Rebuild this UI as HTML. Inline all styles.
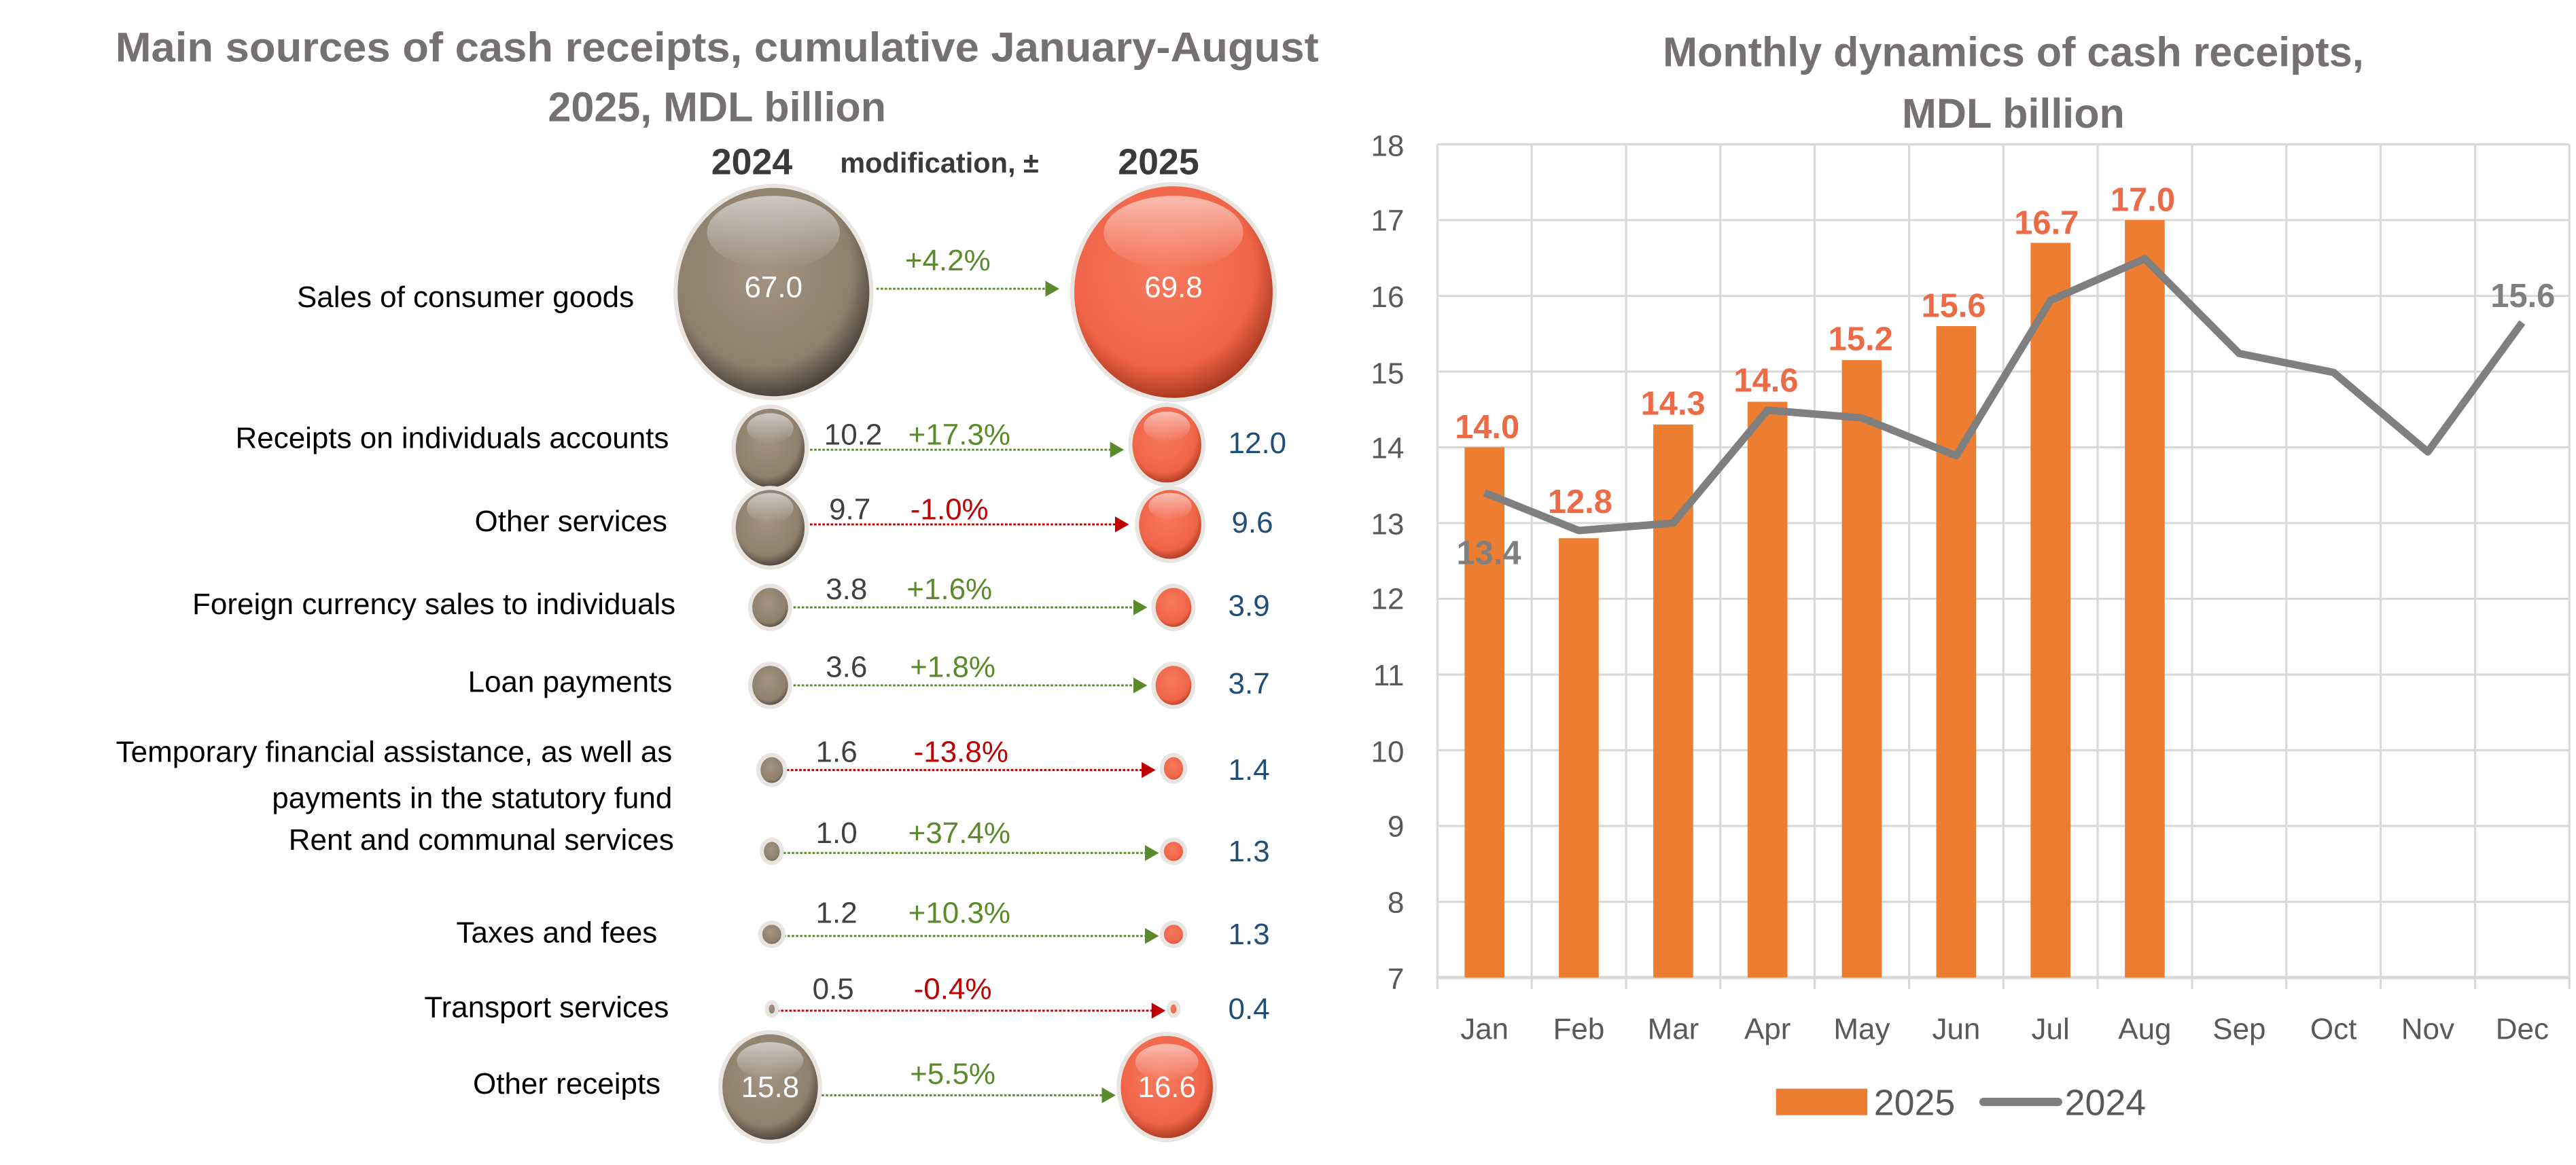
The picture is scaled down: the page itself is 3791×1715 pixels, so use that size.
<!DOCTYPE html>
<html><head><meta charset="utf-8"><style>
html,body{margin:0;padding:0;background:#fff;}
svg{display:block;font-family:"Liberation Sans",sans-serif;}
</style></head><body>
<svg width="3791" height="1715" viewBox="0 0 1552 702" preserveAspectRatio="none" xmlns="http://www.w3.org/2000/svg">
<defs>
<radialGradient id="gg" cx="0.45" cy="0.4" r="0.6">
<stop offset="0" stop-color="#a49382"/><stop offset="0.75" stop-color="#8f7f6d"/><stop offset="1" stop-color="#4a4036"/></radialGradient>
<radialGradient id="og" cx="0.45" cy="0.4" r="0.6">
<stop offset="0" stop-color="#f77a5e"/><stop offset="0.75" stop-color="#f06448"/><stop offset="1" stop-color="#a8381f"/></radialGradient>
<linearGradient id="hl" x1="0" y1="0" x2="0" y2="1"><stop offset="0" stop-color="#fff" stop-opacity="0.55"/><stop offset="1" stop-color="#fff" stop-opacity="0"/></linearGradient>
<marker id="ag" markerWidth="8" markerHeight="8" refX="6" refY="4" orient="auto"><path d="M0,0 L7,4 L0,8 Z" fill="#5a8a2c"/></marker>
<marker id="ar" markerWidth="8" markerHeight="8" refX="6" refY="4" orient="auto"><path d="M0,0 L7,4 L0,8 Z" fill="#c00000"/></marker>
</defs>

<!-- LEFT TITLE -->
<g fill="#767171" font-weight="bold" font-size="25" text-anchor="middle">
<text x="432" y="37" textLength="725" lengthAdjust="spacingAndGlyphs">Main sources of cash receipts, cumulative January-August</text>
<text x="432" y="73">2025,  MDL billion</text>
</g>
<g fill="#3a3a3a" font-weight="bold" font-size="22" text-anchor="middle">
<text x="453" y="105">2024</text><text x="698" y="105">2025</text></g>
<text x="566" y="104" fill="#3a3a3a" font-weight="bold" font-size="17" text-anchor="middle">modification, ±</text>

<!-- arrows -->
<g stroke-dasharray="1.5,1" stroke-width="1.2">
<line x1="528" y1="174" x2="637" y2="174" stroke="#5a8a2c" marker-end="url(#ag)"/>
<line x1="488" y1="271" x2="676" y2="271" stroke="#5a8a2c" marker-end="url(#ag)"/>
<line x1="488" y1="316" x2="679" y2="316" stroke="#c00000" marker-end="url(#ar)"/>
<line x1="478" y1="366" x2="690" y2="366" stroke="#5a8a2c" marker-end="url(#ag)"/>
<line x1="478" y1="413" x2="690" y2="413" stroke="#5a8a2c" marker-end="url(#ag)"/>
<line x1="474" y1="464" x2="695" y2="464" stroke="#c00000" marker-end="url(#ar)"/>
<line x1="472" y1="514" x2="697" y2="514" stroke="#5a8a2c" marker-end="url(#ag)"/>
<line x1="472" y1="564" x2="697" y2="564" stroke="#5a8a2c" marker-end="url(#ag)"/>
<line x1="468" y1="609" x2="701" y2="609" stroke="#c00000" marker-end="url(#ar)"/>
<line x1="495" y1="660" x2="671" y2="660" stroke="#5a8a2c" marker-end="url(#ag)"/>
</g>

<!-- bubbles -->
<g stroke="#e8e4e0" stroke-width="2.5">
<ellipse cx="466" cy="176" rx="59" ry="64" fill="url(#gg)"/>
<ellipse cx="707" cy="176" rx="61" ry="65" fill="url(#og)"/>
<ellipse cx="464" cy="270" rx="22" ry="25" fill="url(#gg)"/>
<ellipse cx="703" cy="268" rx="22" ry="24" fill="url(#og)"/>
<ellipse cx="464" cy="318" rx="22" ry="24" fill="url(#gg)"/>
<ellipse cx="705" cy="316" rx="20" ry="22" fill="url(#og)"/>
<ellipse cx="464" cy="366" rx="12" ry="13" fill="url(#gg)"/>
<ellipse cx="707" cy="366" rx="12" ry="13" fill="url(#og)"/>
<ellipse cx="464" cy="413" rx="12" ry="13" fill="url(#gg)"/>
<ellipse cx="707" cy="413" rx="12" ry="13" fill="url(#og)"/>
<ellipse cx="465" cy="464" rx="8" ry="9" fill="url(#gg)"/>
<ellipse cx="707" cy="463" rx="7" ry="8" fill="url(#og)"/>
<ellipse cx="465" cy="513" rx="6" ry="7" fill="url(#gg)"/>
<ellipse cx="707" cy="513" rx="7" ry="7" fill="url(#og)"/>
<ellipse cx="465" cy="563" rx="7" ry="7" fill="url(#gg)"/>
<ellipse cx="707" cy="563" rx="7" ry="7" fill="url(#og)"/>
<ellipse cx="465" cy="608" rx="3" ry="4" fill="url(#gg)"/>
<ellipse cx="707" cy="608" rx="3" ry="4" fill="url(#og)"/>
<ellipse cx="464" cy="655" rx="30" ry="33" fill="url(#gg)"/>
<ellipse cx="703" cy="655" rx="29" ry="32" fill="url(#og)"/>
</g>
<g fill="url(#hl)">
<ellipse cx="466" cy="140" rx="40" ry="22"/><ellipse cx="707" cy="140" rx="42" ry="22"/>
<ellipse cx="464" cy="258" rx="14" ry="9"/><ellipse cx="703" cy="257" rx="14" ry="9"/>
<ellipse cx="464" cy="306" rx="14" ry="9"/><ellipse cx="705" cy="305" rx="13" ry="8"/>
<ellipse cx="464" cy="639" rx="20" ry="11"/><ellipse cx="703" cy="640" rx="19" ry="11"/>
</g>

<!-- labels -->
<g fill="#000" font-size="18" text-anchor="end">
<text x="382" y="185">Sales of consumer goods</text>
<text x="403" y="270">Receipts on individuals accounts</text>
<text x="402" y="320">Other services</text>
<text x="407" y="370">Foreign currency sales to individuals</text>
<text x="405" y="417">Loan payments</text>
<text x="405" y="459">Temporary financial assistance, as well as</text>
<text x="405" y="487">payments in the statutory fund</text>
<text x="406" y="512">Rent and communal services</text>
<text x="396" y="568">Taxes and fees</text>
<text x="403" y="613">Transport services</text>
<text x="398" y="659">Other receipts</text>
</g>
<g font-size="18" fill="#fff" text-anchor="middle">
<text x="466" y="179">67.0</text><text x="707" y="179">69.8</text>
<text x="464" y="661">15.8</text><text x="703" y="661">16.6</text>
</g>
<g font-size="18" fill="#404040" text-anchor="middle">
<text x="514" y="268">10.2</text><text x="512" y="313">9.7</text><text x="510" y="361">3.8</text>
<text x="510" y="408">3.6</text><text x="504" y="459">1.6</text><text x="504" y="508">1.0</text>
<text x="504" y="556">1.2</text><text x="502" y="602">0.5</text>
</g>
<g font-size="18" text-anchor="middle">
<text x="571" y="163" fill="#5a8a2c">+4.2%</text>
<text x="578" y="268" fill="#5a8a2c">+17.3%</text>
<text x="572" y="313" fill="#c00000">-1.0%</text>
<text x="572" y="361" fill="#5a8a2c">+1.6%</text>
<text x="574" y="408" fill="#5a8a2c">+1.8%</text>
<text x="579" y="459" fill="#c00000">-13.8%</text>
<text x="578" y="508" fill="#5a8a2c">+37.4%</text>
<text x="578" y="556" fill="#5a8a2c">+10.3%</text>
<text x="574" y="602" fill="#c00000">-0.4%</text>
<text x="574" y="653" fill="#5a8a2c">+5.5%</text>
</g>
<g font-size="18" fill="#1f4e79" text-anchor="start">
<text x="740" y="273">12.0</text><text x="742" y="321">9.6</text><text x="740" y="371">3.9</text>
<text x="740" y="418">3.7</text><text x="740" y="470">1.4</text><text x="740" y="519">1.3</text>
<text x="740" y="569">1.3</text><text x="740" y="614">0.4</text>
</g>

<!-- RIGHT CHART -->
<g fill="#767171" font-weight="bold" font-size="25" text-anchor="middle">
<text x="1213" y="40">Monthly dynamics of cash receipts,</text>
<text x="1213" y="77">MDL billion</text>
</g>
<g stroke="#d9d9d9" stroke-width="1.3">
<line x1="866" y1="87" x2="1548" y2="87"/><line x1="866" y1="132.6" x2="1548" y2="132.6"/>
<line x1="866" y1="178.3" x2="1548" y2="178.3"/><line x1="866" y1="223.9" x2="1548" y2="223.9"/>
<line x1="866" y1="269.5" x2="1548" y2="269.5"/><line x1="866" y1="315.2" x2="1548" y2="315.2"/>
<line x1="866" y1="360.8" x2="1548" y2="360.8"/><line x1="866" y1="406.5" x2="1548" y2="406.5"/>
<line x1="866" y1="452.1" x2="1548" y2="452.1"/><line x1="866" y1="497.7" x2="1548" y2="497.7"/>
<line x1="866" y1="543.4" x2="1548" y2="543.4"/>
<line x1="866" y1="87" x2="866" y2="596"/><line x1="922.8" y1="87" x2="922.8" y2="596"/>
<line x1="979.7" y1="87" x2="979.7" y2="596"/><line x1="1036.5" y1="87" x2="1036.5" y2="596"/>
<line x1="1093.3" y1="87" x2="1093.3" y2="596"/><line x1="1150.2" y1="87" x2="1150.2" y2="596"/>
<line x1="1207" y1="87" x2="1207" y2="596"/><line x1="1263.8" y1="87" x2="1263.8" y2="596"/>
<line x1="1320.7" y1="87" x2="1320.7" y2="596"/><line x1="1377.5" y1="87" x2="1377.5" y2="596"/>
<line x1="1434.3" y1="87" x2="1434.3" y2="596"/><line x1="1491.2" y1="87" x2="1491.2" y2="596"/>
<line x1="1548" y1="87" x2="1548" y2="596"/>
<line x1="866" y1="589" x2="1548" y2="589" stroke-width="2"/>
</g>
<g font-size="18" fill="#595959" text-anchor="end">
<text x="846" y="94">18</text><text x="846" y="139">17</text><text x="846" y="185">16</text>
<text x="846" y="231">15</text><text x="846" y="276">14</text><text x="846" y="322">13</text>
<text x="846" y="367">12</text><text x="846" y="413">11</text><text x="846" y="459">10</text>
<text x="846" y="504">9</text><text x="846" y="550">8</text><text x="846" y="596">7</text>
</g>
<g fill="#ed7d31">
<rect x="882.4" y="269.5" width="24" height="319.5"/>
<rect x="939.2" y="324.3" width="24" height="264.7"/>
<rect x="996.1" y="255.8" width="24" height="333.2"/>
<rect x="1052.9" y="242.1" width="24" height="346.9"/>
<rect x="1109.7" y="217" width="24" height="372"/>
<rect x="1166.6" y="196.5" width="24" height="392.5"/>
<rect x="1223.4" y="146.3" width="24" height="442.7"/>
<rect x="1280.2" y="132.6" width="24" height="456.4"/>
</g>
<polyline fill="none" stroke="#7f7f7f" stroke-width="4.5" stroke-linejoin="round" points="894.4,296.9 951.2,319.7 1008.1,315.2 1064.9,247.2 1121.7,251.8 1178.6,274.6 1235.4,181.0 1292.2,155.9 1349.1,213 1405.9,224.4 1462.7,272.3 1519.6,194.3"/>
<g font-size="20" font-weight="bold" fill="#ed6a46" text-anchor="middle">
<text x="896" y="264">14.0</text><text x="952" y="309">12.8</text><text x="1008" y="250">14.3</text>
<text x="1064" y="236">14.6</text><text x="1121" y="211">15.2</text><text x="1177" y="191">15.6</text>
<text x="1233" y="141">16.7</text><text x="1291" y="127">17.0</text>
</g>
<g font-size="20" font-weight="bold" fill="#7f7f7f" text-anchor="middle">
<text x="897" y="340">13.4</text><text x="1520" y="185">15.6</text>
</g>
<g font-size="18" fill="#595959" text-anchor="middle">
<text x="894.4" y="626">Jan</text><text x="951.2" y="626">Feb</text><text x="1008.1" y="626">Mar</text>
<text x="1064.9" y="626">Apr</text><text x="1121.7" y="626">May</text><text x="1178.6" y="626">Jun</text>
<text x="1235.4" y="626">Jul</text><text x="1292.2" y="626">Aug</text><text x="1349.1" y="626">Sep</text>
<text x="1405.9" y="626">Oct</text><text x="1462.7" y="626">Nov</text><text x="1519.6" y="626">Dec</text>
</g>
<rect x="1070" y="656" width="55" height="16" fill="#ed7d31"/>
<text x="1129" y="672" font-size="22" fill="#595959">2025</text>
<line x1="1195" y1="664" x2="1240" y2="664" stroke="#7f7f7f" stroke-width="5" stroke-linecap="round"/>
<text x="1244" y="672" font-size="22" fill="#595959">2024</text>
</svg>
</body></html>
